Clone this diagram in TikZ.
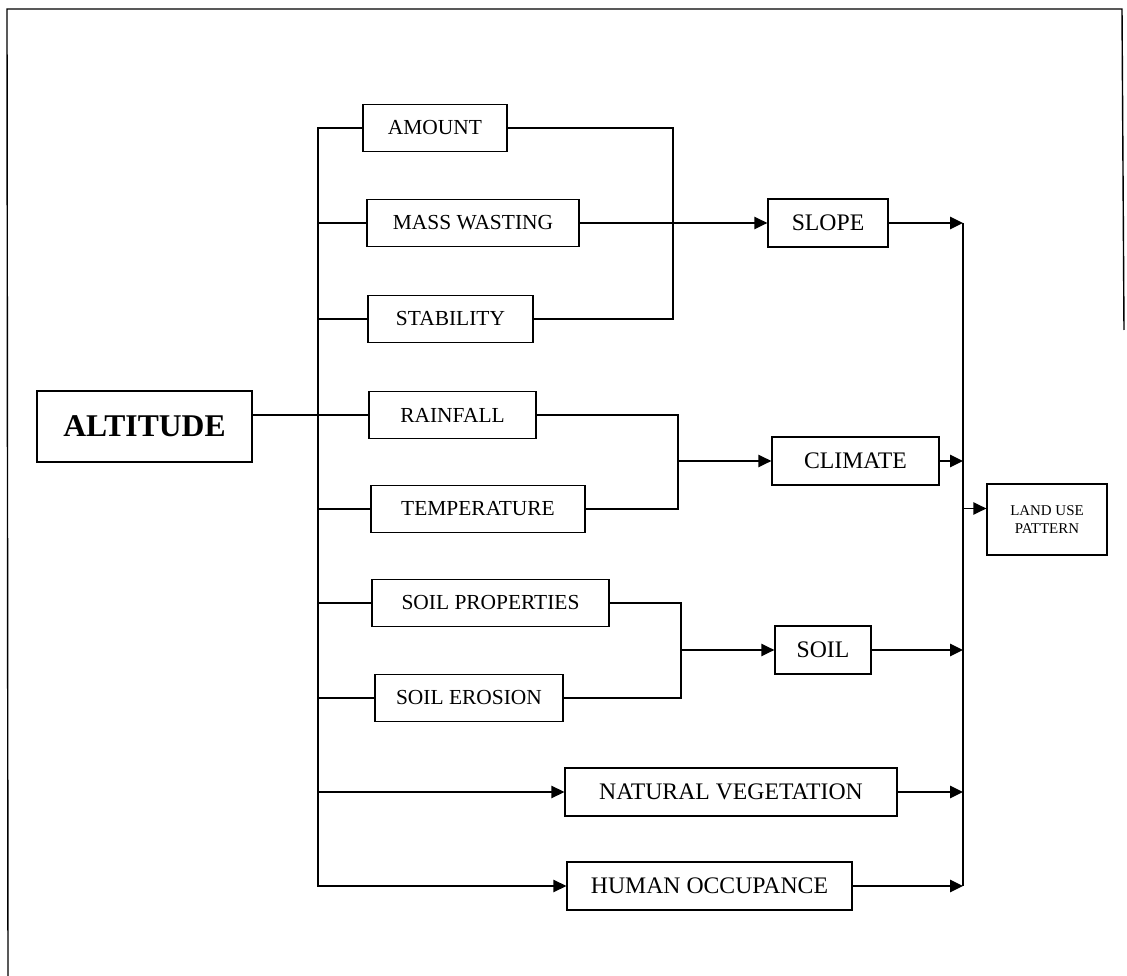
\documentclass[tikz,border=0pt]{standalone}
\usepackage{fontspec}
\setmainfont{Liberation Serif}
\usetikzlibrary{arrows.meta}
\tikzset{
    factorbox/.style={
        rectangle,
        draw, % thin black frame
        line width=0.8pt,
        minimum height=0.94cm,
        inner sep=0,
        font=\fontsize{12.2}{14}\selectfont
    },
    groupbox/.style={
        rectangle,
        draw, % thin black frame
        line width=0.8pt,
        minimum height=0.96cm,
        inner sep=0,
        font=\fontsize{13.5}{16}\selectfont
    },
    sourcebox/.style={
        rectangle,
        draw,
        line width=0.8pt,
        minimum width=4.3cm,
        minimum height=1.42cm,
        inner sep=0,
        font=\fontsize{18}{21}\selectfont\bfseries
    },
    resultbox/.style={
        rectangle,
        draw,
        line width=0.8pt,
        minimum width=2.4cm,
        minimum height=1.42cm,
        inner sep=0,
        align=center,
        font=\fontsize{8.5}{10}\selectfont
    },
    link/.style={
        line width=0.8pt
    }
}

\begin{document}
\begin{tikzpicture}[
                x=0.02cm, y=-0.02cm,
                >={Triangle[length=0.26cm,width=0.25cm]}
            ]
            \useasboundingbox (0,0) rectangle (1127,976);
            % page frame
            \draw[link] (8,976) -- (7,9) -- (1122,9) -- (1124,330);

            % source
            \node[sourcebox] (altitude) at (144.5,426.5) {ALTITUDE};

            % factors
            \node[factorbox, minimum width=2.88cm] (amount)   at (435,128)   {AMOUNT};
            \node[factorbox, minimum width=4.24cm] (mass)     at (473,223)   {MASS WASTING};
            \node[factorbox, minimum width=3.3cm]  (stab)     at (450.5,319) {STABILITY};
            \node[factorbox, minimum width=3.34cm] (rain)     at (452.5,415) {RAINFALL};
            \node[factorbox, minimum width=4.28cm] (temp)     at (478,509)   {TEMPERATURE};
            \node[factorbox, minimum width=4.74cm] (sprop)    at (490.5,603) {SOIL PROPERTIES};
            \node[factorbox, minimum width=3.76cm] (serosion) at (469,698)   {SOIL EROSION};

            % groups
            \node[groupbox, minimum width=2.4cm]  (slope)   at (828,223)   {SLOPE};
            \node[groupbox, minimum width=3.34cm] (climate) at (855.5,461) {CLIMATE};
            \node[groupbox, minimum width=1.92cm] (soil)    at (823,650)   {SOIL};
            \node[groupbox, minimum width=6.64cm] (natveg)  at (731,792)   {NATURAL VEGETATION};
            \node[groupbox, minimum width=5.7cm]  (human)   at (709.5,886) {HUMAN OCCUPANCE};

            % result
            \node[resultbox] (landuse) at (1047,519.5) {LAND USE\\PATTERN};
            \coordinate (landin) at ([yshift=0.22cm]landuse.west);

            % bus lines
            \coordinate (lbus) at (318,0);
            \coordinate (smerge) at (673,0);
            \coordinate (cmerge) at (678,0);
            \coordinate (gmerge) at (681,0);
            \coordinate (rbus) at (963,0);

            % altitude to the factors
            \draw[link] (altitude.east |- rain.west) -- (rain.west);
            \draw[link,->] (amount.west) -- (amount.west -| lbus) |- (human.west);
            \foreach \n in {mass,stab,rain,temp,sprop,serosion}
                \draw[link] (lbus |- \n.west) -- (\n.west);
            \draw[link,->] (lbus |- natveg.west) -- (natveg.west);

            % factors to the groups
            \draw[link] (amount.east) -| (smerge |- stab.east) -- (stab.east);
            \draw[link,->] (mass.east) -- (slope.west);
            \draw[link] (rain.east) -| (cmerge |- temp.east) -- (temp.east);
            \draw[link,->] (cmerge |- climate.west) -- (climate.west);
            \draw[link] (sprop.east) -| (gmerge |- serosion.east) -- (serosion.east);
            \draw[link,->] (gmerge |- soil.west) -- (soil.west);

            % groups to land use
            \draw[link] (rbus |- slope.east) -- (rbus |- human.east);
            \foreach \n in {slope,climate,soil,natveg,human}
                \draw[link,->] (\n.east) -- (rbus |- \n.east);
            \draw[link,->] (rbus |- landin) -- (landin);
\end{tikzpicture}
\end{document}
